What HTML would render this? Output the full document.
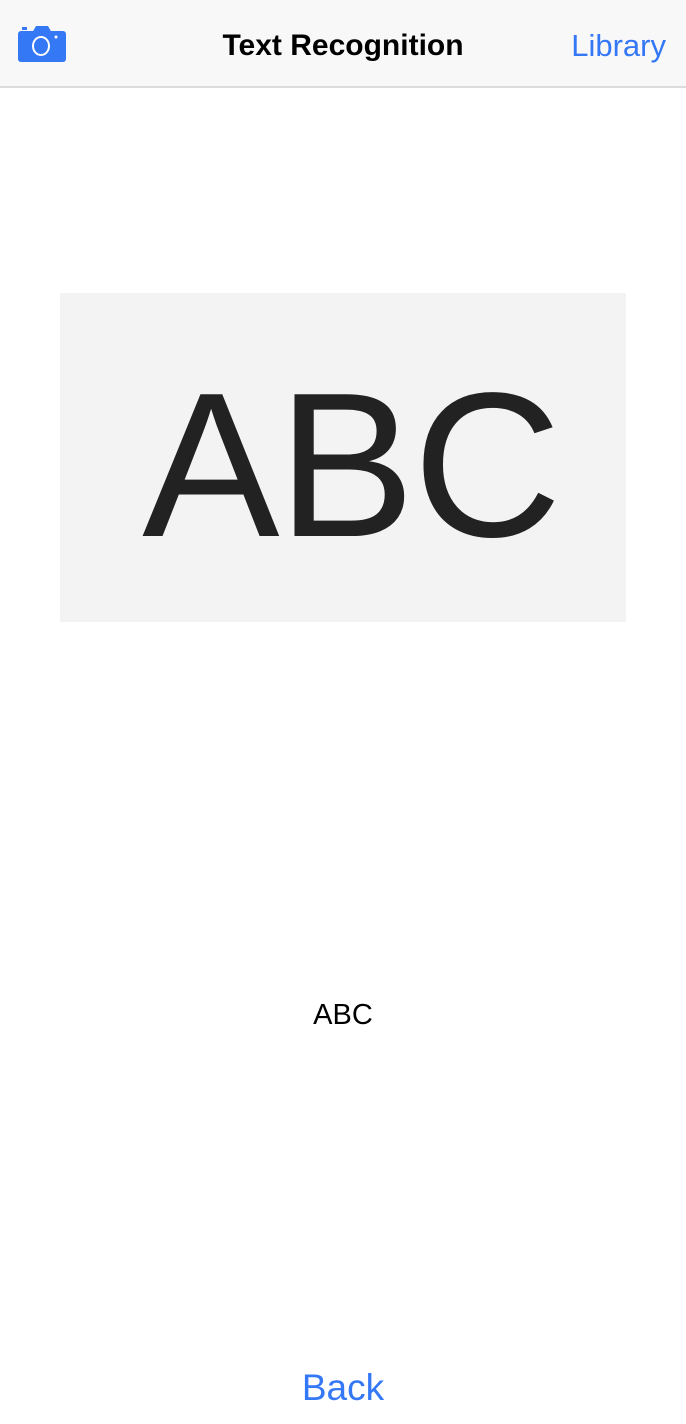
<!DOCTYPE html>
<html><head><style>
body{margin:0;width:686px;height:1424px;background:#fff;font-family:"Liberation Sans",sans-serif;position:relative;overflow:hidden}
.nav{position:absolute;left:0;top:0;width:686px;height:86px;background:#f8f8f8;border-bottom:2px solid #dcdcdc}
.title{position:absolute;left:0;width:686px;top:28px;text-align:center;font-size:30px;font-weight:bold;color:#000;line-height:36px}
.lib{position:absolute;right:20px;top:28px;font-size:31px;color:#3478f6;line-height:36px}
.img{position:absolute;left:60px;top:293px;width:566px;height:329px;background:#f3f3f3;overflow:hidden}
.big{position:absolute;left:8px;width:566px;top:42px;text-align:center;font-size:206px;color:#222;line-height:260px;letter-spacing:-2px}
.res{position:absolute;left:0;width:686px;top:997px;text-align:center;font-size:29px;line-height:36px;color:#000}
.back{position:absolute;left:0;width:686px;top:1366px;text-align:center;font-size:37px;line-height:44px;color:#3478f6}
</style></head><body>
<div class="nav">
<svg style="position:absolute;left:18px;top:25px" width="48" height="37" viewBox="0 0 48 37">
<rect x="0" y="6" width="48" height="31" rx="3" fill="#3478f6"/>
<path d="M14 8 L18 1 H30 L34 8 Z" fill="#3478f6"/>
<rect x="4" y="2" width="5" height="3" fill="#3478f6"/>
<ellipse cx="23" cy="21" rx="8" ry="9" fill="none" stroke="#fff" stroke-width="2"/>
<circle cx="38" cy="12" r="1.5" fill="#fff"/>
</svg>
<div class="title">Text Recognition</div>
<div class="lib">Library</div>
</div>
<div class="img"><div class="big">ABC</div></div>
<div class="res">ABC</div>
<div class="back">Back</div>
</body></html>
